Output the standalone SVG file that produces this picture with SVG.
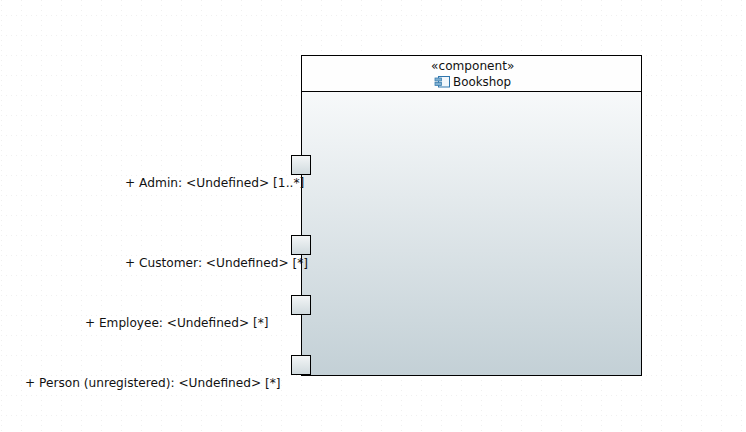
<svg xmlns="http://www.w3.org/2000/svg" width="746" height="432" viewBox="0 0 746 432">
<style>
.t{font-family:"DejaVu Sans",sans-serif;font-size:12px;fill:#111}
.p{font-size:12.16px}
.port{fill:url(#portFill);stroke:#000;stroke-width:1}
.body{stroke:#000;stroke-width:1}
</style>
<defs>
<linearGradient id="bodyFill" x1="0" y1="0" x2="0" y2="1"><stop offset="0" stop-color="#f7f9fa"/><stop offset="1" stop-color="#c3d0d6"/></linearGradient>
<linearGradient id="portFill" x1="0" y1="0" x2="0" y2="1"><stop offset="0" stop-color="#f4f6f7"/><stop offset="1" stop-color="#cfd9dd"/></linearGradient>
<pattern id="grid" width="20" height="20" patternUnits="userSpaceOnUse" x="1" y="15">
<path d="M0 .5H20M.5 0V20" fill="none" stroke="#f0f0f0" stroke-width="1" stroke-dasharray="1 4"/>
</pattern>
</defs>
<rect width="746" height="432" fill="#fff"/>
<rect width="746" height="432" fill="url(#grid)"/>
<g id="connectors"></g>
<g id="bookshop">
<rect class="body" x="301.500" y="91.500" width="340" height="284" fill="url(#bodyFill)"/>
<rect class="body" x="301.500" y="55.500" width="340" height="36" fill="#fefefe"/>
<text class="t" x="472.700" y="70" text-anchor="middle" style="font-size:12.1px">«component»</text>
<g id="component-icon">
<rect x="438.500" y="76.500" width="11" height="10.500" fill="#f2f7fb" stroke="#2f76ad"/>
<rect x="435" y="78" width="6.500" height="3" fill="#7fb0d2" stroke="#3d7fb0" stroke-width=".8"/>
<rect x="435" y="82.500" width="6.500" height="3" fill="#7fb0d2" stroke="#3d7fb0" stroke-width=".8"/>
</g>
<text class="t" x="453" y="86" style="font-size:11.9px">Bookshop</text>
</g>
<g id="port-admin"><rect class="port" x="291.500" y="155.500" width="19" height="19"/><text class="t p" x="125" y="187" style="font-size:12.22px">+ Admin: &lt;Undefined&gt; [1..*]</text></g>
<g id="port-customer"><rect class="port" x="291.500" y="235.500" width="19" height="19"/><text class="t p" x="125" y="267">+ Customer: &lt;Undefined&gt; [*]</text></g>
<g id="port-employee"><rect class="port" x="291.500" y="295.500" width="19" height="19"/><text class="t p" x="85" y="327" style="font-size:12.1px">+ Employee: &lt;Undefined&gt; [*]</text></g>
<g id="port-person"><rect class="port" x="291.500" y="355.500" width="19" height="19"/><text class="t p" x="25" y="387">+ Person (unregistered): &lt;Undefined&gt; [*]</text></g>
</svg>
